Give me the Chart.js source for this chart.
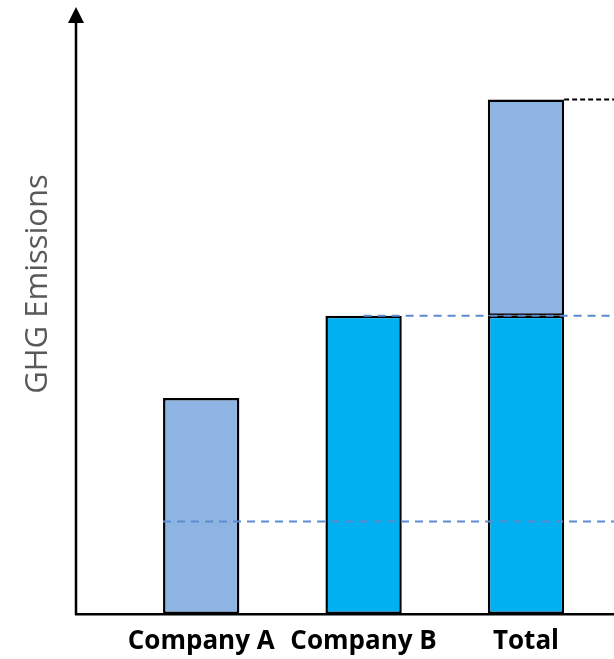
<!DOCTYPE html>
<html>
<head>
<meta charset="utf-8">
<script src="https://cdn.jsdelivr.net/npm/chart.js@4/dist/chart.umd.min.js"></script>
<style>
  body { margin: 0; background: #fff; }
  #wrap { width: 614px; height: 659px; }
</style>
</head>
<body>
<div id="wrap"><canvas id="myChart" width="614" height="659"></canvas></div>
<script>
// categories sit at x = 1, 2, 3 on a linear axis
const categories = ['Company A', 'Company B', 'Total'];
const categoryPos = [1, 2, 3];
// light blue: Company A's share, cyan: Company B's share
const lightValues = [42, null, 42];
const cyanValues = [null, 58, 58];
const baseLevel = 18;   // lower dashed reference
const yTitle = 'GHG Emissions';

const LIGHT = '#8EB4E3';
const CYAN = '#00B0F0';
const DASH_BLUE = '#5B8BD0';

function toPoints(vals) {
  let pts = [];
  for (let i = 0; i < vals.length; i++) {
    if (vals[i] !== null) pts.push({x: categoryPos[i], y: vals[i]});
  }
  return pts;
}

const guides = {
  id: 'guides',
  afterDatasetsDraw(chart) {
    const ctx = chart.ctx;
    const area = chart.chartArea;
    const y = chart.scales.y;
    const cyanMeta = chart.getDatasetMeta(0);
    const lightMeta = chart.getDatasetMeta(1);
    const barA = lightMeta.data[0];
    const barB = cyanMeta.data[0];
    const barTotTop = lightMeta.data[1];

    ctx.save();
    ctx.lineWidth = 2;
    // lower blue dashed line from left edge of Company A
    ctx.strokeStyle = DASH_BLUE;
    ctx.setLineDash([8, 6]);
    let py = y.getPixelForValue(baseLevel);
    ctx.beginPath();
    ctx.moveTo(barA.x - barA.width / 2, py);
    ctx.lineTo(area.right, py);
    ctx.stroke();
    // blue dashed line at Company B's level
    py = y.getPixelForValue(cyanValues[1]);
    ctx.beginPath();
    ctx.moveTo(barB.x, py);
    ctx.lineTo(area.right, py);
    ctx.stroke();
    // black dashed line at total
    ctx.strokeStyle = '#000';
    ctx.setLineDash([5, 3]);
    py = y.getPixelForValue(cyanValues[2] + lightValues[2]);
    ctx.beginPath();
    ctx.moveTo(barTotTop.x + barTotTop.width / 2, py);
    ctx.lineTo(area.right, py);
    ctx.stroke();

    // y axis with arrow
    ctx.setLineDash([]);
    ctx.lineWidth = 2.5;
    ctx.strokeStyle = '#000';
    ctx.fillStyle = '#000';
    ctx.beginPath();
    ctx.moveTo(area.left, area.bottom + 1);
    ctx.lineTo(area.left, area.top + 14);
    ctx.stroke();
    ctx.beginPath();
    ctx.moveTo(area.left, area.top);
    ctx.lineTo(area.left - 8, area.top + 16);
    ctx.lineTo(area.left + 8, area.top + 16);
    ctx.closePath();
    ctx.fill();

    // y axis title
    ctx.translate(area.left - 38, 284);
    ctx.rotate(-Math.PI / 2);
    ctx.font = '31px "Open Sans"';
    ctx.fillStyle = '#595959';
    ctx.textAlign = 'center';
    ctx.textBaseline = 'middle';
    ctx.fillText(yTitle, 0, 0);
    ctx.restore();
  }
};

const config = {
  type: 'bar',
  data: {
    datasets: [
      {
        label: 'Company B',
        data: toPoints(cyanValues),
        backgroundColor: CYAN,
        borderColor: '#000',
        borderWidth: 2.5,
        borderSkipped: false
      },
      {
        label: 'Company A',
        data: toPoints(lightValues),
        backgroundColor: LIGHT,
        borderColor: '#000',
        borderWidth: 2.5,
        borderSkipped: false
      }
    ]
  },
  options: {
    responsive: false,
    animation: false,
    barPercentage: 0.47,
    categoryPercentage: 1,
    layout: { padding: { left: 76, right: 0, top: 7, bottom: 0 } },
    plugins: { legend: { display: false }, tooltip: { enabled: false } },
    scales: {
      x: {
        type: 'linear',
        stacked: true,
        offset: false,
        min: 0.229,
        max: 3.542,
        grid: { display: false, drawTicks: false },
        border: { display: true, color: '#000', width: 2.5 },
        afterBuildTicks: function(scale) {
          scale.ticks = categoryPos.map(v => ({value: v}));
        },
        afterFit: function(scale) {
          scale.height = 45;
        },
        ticks: {
          padding: 12,
          maxRotation: 0,
          autoSkip: false,
          color: '#000',
          font: { family: '"Open Sans"', size: 26, weight: 'bold' },
          callback: function(v) { return categories[categoryPos.indexOf(v)]; }
        }
      },
      y: {
        stacked: true,
        display: false,
        min: 0,
        max: 118
      }
    }
  },
  plugins: [guides]
};

new Chart(document.getElementById('myChart'), config);
</script>
</body>
</html>
